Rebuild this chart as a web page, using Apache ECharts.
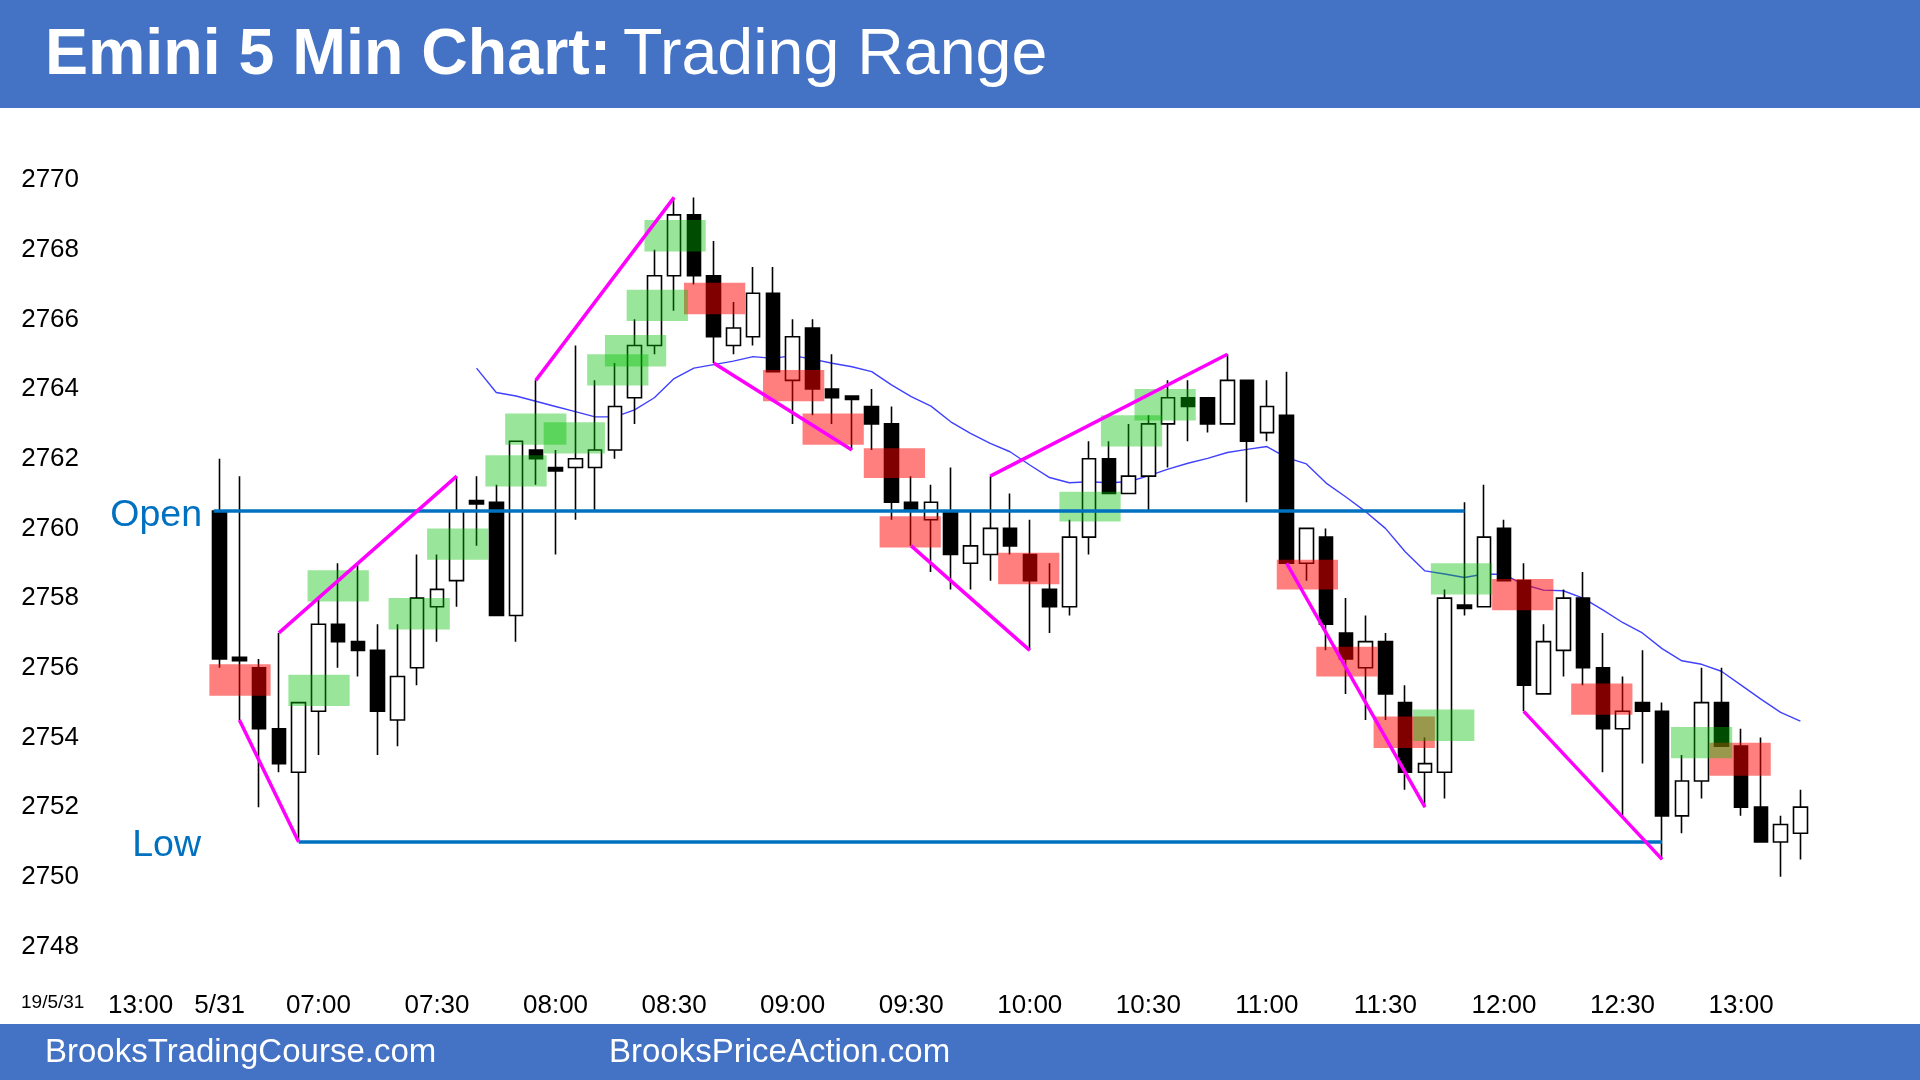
<!DOCTYPE html>
<html>
<head>
<meta charset="UTF-8" />
<title>Emini 5 Min Chart: Trading Range</title>
<style>
    html, body { margin: 0; padding: 0; background: #fff; }
    #chart { width: 1920px; height: 1080px; }
</style>
</head>
<body>
<div id="chart"></div>
<script src="https://cdn.jsdelivr.net/npm/echarts@6.0.0/dist/echarts.min.js"></script>
<script>
// previous day slots (empty on the chart) then 5/31 from 06:35
const prevDaySlots = ['5/30 12:50', '5/30 12:55', '5/30 13:00', '5/30 13:05', '5/30 13:10', '5/30 13:15'];
const firstBarTime = '06:35';
const daySlotCount = 85;

const xTickLabels = {
    '5/30 13:00': '13:00',
    '5/31 06:35': '5/31',
    '5/31 07:00': '07:00',
    '5/31 07:30': '07:30',
    '5/31 08:00': '08:00',
    '5/31 08:30': '08:30',
    '5/31 09:00': '09:00',
    '5/31 09:30': '09:30',
    '5/31 10:00': '10:00',
    '5/31 10:30': '10:30',
    '5/31 11:00': '11:00',
    '5/31 11:30': '11:30',
    '5/31 12:00': '12:00',
    '5/31 12:30': '12:30',
    '5/31 13:00': '13:00'
};

// 5 min bars, 06:35 .. 13:15
const barOpen = [
    2760.5, 2756.3, 2756.0, 2754.25, 2753.0, 2754.75, 2757.25, 2756.75, 2756.5, 2754.5,
    2756.0, 2757.75, 2758.5, 2760.8, 2760.75, 2757.5, 2762.25, 2761.75, 2761.75, 2761.75,
    2762.25, 2763.75, 2765.25, 2767.25, 2769.0, 2767.25, 2765.25, 2765.5, 2766.75, 2764.25,
    2765.75, 2764.0, 2763.8, 2763.5, 2763.0, 2760.75, 2760.25, 2760.5, 2759.0, 2759.25,
    2760.0, 2759.25, 2758.25, 2757.75, 2759.75, 2762.0, 2761.0, 2761.5, 2763.0, 2763.75,
    2763.75, 2763.0, 2764.25, 2762.75, 2763.25, 2759.0, 2759.75, 2757.0, 2756.0, 2756.75,
    2755.0, 2753.0, 2753.0, 2757.8, 2757.75, 2760.0, 2758.5, 2755.25, 2756.5, 2758.0,
    2756.0, 2754.25, 2755.0, 2754.75, 2751.75, 2752.75, 2755.0, 2753.75, 2752.0, 2751.0,
    2751.25
];
const barClose = [
    2756.25, 2756.2, 2754.25, 2753.25, 2755.0, 2757.25, 2756.75, 2756.5, 2754.75, 2755.75,
    2758.0, 2758.25, 2760.5, 2760.7, 2757.5, 2762.5, 2762.0, 2761.65, 2762.0, 2762.25,
    2763.5, 2765.25, 2767.25, 2769.0, 2767.25, 2765.5, 2765.75, 2766.75, 2764.5, 2765.5,
    2764.0, 2763.75, 2763.7, 2763.0, 2760.75, 2760.5, 2760.75, 2759.25, 2759.5, 2760.0,
    2759.5, 2758.5, 2757.75, 2759.75, 2762.0, 2761.0, 2761.5, 2763.0, 2763.75, 2763.5,
    2763.0, 2764.25, 2762.5, 2763.5, 2759.0, 2760.0, 2757.25, 2756.25, 2756.75, 2755.25,
    2753.0, 2753.25, 2758.0, 2757.7, 2759.75, 2758.5, 2755.5, 2756.75, 2758.0, 2756.0,
    2754.25, 2754.75, 2754.75, 2751.75, 2752.75, 2755.0, 2753.75, 2752.0, 2751.0, 2751.5,
    2752.0
];
const barLow = [
    2756.0, 2754.5, 2752.0, 2753.0, 2751.0, 2753.5, 2756.0, 2755.75, 2753.5, 2753.75,
    2755.5, 2756.75, 2757.75, 2759.5, 2757.5, 2756.75, 2761.25, 2759.25, 2760.25, 2760.5,
    2762.0, 2763.0, 2765.0, 2766.25, 2767.0, 2764.75, 2765.0, 2765.25, 2764.5, 2763.0,
    2763.25, 2763.0, 2762.25, 2762.25, 2760.25, 2759.5, 2758.75, 2758.25, 2758.25, 2758.5,
    2759.25, 2756.5, 2757.0, 2757.5, 2759.25, 2761.0, 2761.0, 2760.5, 2761.75, 2762.5,
    2762.75, 2763.0, 2760.75, 2762.5, 2759.0, 2758.5, 2756.5, 2755.25, 2754.5, 2754.5,
    2752.5, 2752.0, 2752.25, 2757.5, 2757.75, 2758.5, 2754.75, 2755.25, 2755.75, 2755.5,
    2753.0, 2751.75, 2753.25, 2750.5, 2751.25, 2752.25, 2753.75, 2751.75, 2751.0, 2750.0,
    2750.5
];
const barHigh = [
    2762.0, 2761.5, 2756.25, 2757.0, 2755.0, 2758.0, 2759.0, 2759.0, 2757.25, 2757.25,
    2759.25, 2759.25, 2761.5, 2761.5, 2761.25, 2762.5, 2764.25, 2762.25, 2765.25, 2764.25,
    2764.75, 2766.0, 2768.0, 2769.5, 2769.5, 2768.25, 2766.5, 2767.5, 2767.5, 2766.0,
    2766.0, 2765.0, 2763.8, 2764.0, 2763.5, 2761.5, 2761.25, 2761.75, 2760.5, 2761.5,
    2761.0, 2760.25, 2759.0, 2760.25, 2762.5, 2762.5, 2763.0, 2763.25, 2764.25, 2764.25,
    2763.75, 2765.0, 2764.25, 2764.25, 2764.5, 2760.0, 2760.0, 2758.0, 2757.5, 2757.0,
    2755.5, 2754.0, 2758.25, 2760.75, 2761.25, 2760.25, 2759.0, 2757.25, 2758.25, 2758.75,
    2757.0, 2755.75, 2756.5, 2755.0, 2753.5, 2756.0, 2756.0, 2754.25, 2754.0, 2751.75,
    2752.5
];

// 20 bar EMA as drawn, starting at bar 13
const emaStartBar = 13;
const emaValues = [
    2764.6, 2763.9, 2763.8, 2763.65, 2763.5, 2763.35, 2763.2, 2763.2, 2763.4, 2763.75,
    2764.3, 2764.6, 2764.7, 2764.8, 2764.93, 2764.88, 2764.96, 2764.86, 2764.74, 2764.64,
    2764.5, 2764.12, 2763.78, 2763.51, 2763.06, 2762.73, 2762.44, 2762.2, 2761.82, 2761.46,
    2761.31, 2761.34, 2761.31, 2761.34, 2761.51, 2761.7, 2761.87, 2762.01, 2762.18, 2762.27,
    2762.35, 2762.03, 2761.85, 2761.3, 2760.9, 2760.48, 2760.0, 2759.33, 2758.78, 2758.69,
    2758.59, 2758.69, 2758.68, 2758.39, 2758.23, 2758.21, 2758.0, 2757.66, 2757.3, 2757.0,
    2756.55, 2756.2, 2756.1, 2755.9, 2755.5, 2755.1, 2754.72, 2754.47
];

// highlight boxes: [centre bar, low, high]
const redBoxes = [
    [1.03, 2755.2, 2756.1], [25.05, 2766.15, 2767.05], [29.05, 2763.65, 2764.55],
    [31.05, 2762.4, 2763.3], [34.15, 2761.45, 2762.3], [34.95, 2759.45, 2760.35],
    [40.95, 2758.4, 2759.3], [55.05, 2758.25, 2759.1], [57.05, 2755.75, 2756.6],
    [59.95, 2753.7, 2754.6], [65.95, 2757.65, 2758.55], [69.95, 2754.65, 2755.55],
    [76.95, 2752.9, 2753.85]
];
const greenBoxes = [
    [5.03, 2754.9, 2755.8], [6.0, 2757.9, 2758.8], [10.1, 2757.1, 2758.0],
    [12.05, 2759.1, 2760.0], [15.0, 2761.2, 2762.1], [16.0, 2762.4, 2763.3],
    [17.95, 2762.15, 2763.05], [20.15, 2764.1, 2765.0], [21.05, 2764.65, 2765.55],
    [22.15, 2765.95, 2766.85], [23.05, 2767.95, 2768.85], [44.05, 2760.2, 2761.05],
    [46.15, 2762.35, 2763.25], [47.85, 2763.1, 2764.0], [61.95, 2753.9, 2754.8],
    [62.85, 2758.1, 2759.0], [75.0, 2753.4, 2754.3]
];

// trend lines: [[bar, price], [bar, price]]
const trendLines = [
    [[1, 2754.5], [4, 2751.0]],
    [[3, 2757.0], [12, 2761.5]],
    [[16, 2764.25], [23, 2769.5]],
    [[25, 2764.75], [32, 2762.25]],
    [[35, 2759.5], [41, 2756.5]],
    [[39, 2761.5], [51, 2765.0]],
    [[54, 2759.0], [61, 2752.0]],
    [[66, 2754.75], [73, 2750.5]]
];
const openLine = [[-0.3, 2760.5], [63, 2760.5]];
const lowLine = [[4, 2751.0], [73, 2751.0]];

const yTicks = { min: 2748, max: 2770, step: 2 };

// ---- build
const dayCategories = [];
let [hh, mm] = firstBarTime.split(':').map(Number);
for (let i = 0; i < daySlotCount; i++) {
    dayCategories.push('5/31 ' + String(hh).padStart(2, '0') + ':' + String(mm).padStart(2, '0'));
    mm += 5;
    if (mm >= 60) { mm -= 60; hh += 1; }
}
const categories = prevDaySlots.concat(dayCategories);
const lead = prevDaySlots.length;

const candleData = categories.map((c, j) => {
    const i = j - lead;
    if (i < 0 || i >= barOpen.length) return ['-', '-', '-', '-'];
    return [barOpen[i], barClose[i], barLow[i], barHigh[i]];
});
const emaData = emaValues.map((v, k) => [emaStartBar + k, v]);

const font = 'Liberation Sans, Arial, sans-serif';
const boxHalf = 1.55;

function boxSeries(list, fill) {
    return {
        type: 'custom',
        xAxisIndex: 1,
        yAxisIndex: 0,
        z: 3,
        silent: true,
        data: list.map(b => [b[0] - boxHalf, b[0] + boxHalf, b[1], b[2]]),
        encode: { x: [0, 1], y: [2, 3] },
        renderItem: function (params, api) {
            const p1 = api.coord([api.value(0), api.value(3)]);
            const p2 = api.coord([api.value(1), api.value(2)]);
            return {
                type: 'rect',
                shape: { x: p1[0], y: p1[1], width: p2[0] - p1[0], height: p2[1] - p1[1] },
                style: { fill: fill }
            };
        }
    };
}

function lineSeries(data, color, width, z) {
    return {
        type: 'line',
        xAxisIndex: 1,
        yAxisIndex: 0,
        data: data,
        symbol: 'none',
        silent: true,
        z: z,
        lineStyle: { color: color, width: width }
    };
}

const series = [
    {
        type: 'candlestick',
        xAxisIndex: 0,
        yAxisIndex: 0,
        data: candleData,
        barWidth: 14,
        z: 2,
        itemStyle: {
            color: '#ffffff',
            color0: '#000000',
            borderColor: '#000000',
            borderColor0: '#000000',
            borderWidth: 1.6
        }
    },
    lineSeries(emaData, '#4040ff', 1.4, 2),
    boxSeries(redBoxes, 'rgba(255,0,0,0.5)'),
    boxSeries(greenBoxes, 'rgba(0,190,0,0.4)'),
    lineSeries(openLine, '#0070C0', 3.5, 4),
    lineSeries(lowLine, '#0070C0', 3.5, 4)
];
trendLines.forEach(seg => series.push(lineSeries(seg, '#ff00ff', 3.5, 5)));

const chart = echarts.init(document.getElementById('chart'));
chart.setOption({
    animation: false,
    backgroundColor: '#ffffff',
    grid: { left: 91.2, right: 30.7, top: 180, bottom: 133.5, containLabel: false },
    xAxis: [
        {
            type: 'category',
            data: categories,
            boundaryGap: true,
            axisLine: { show: false },
            axisTick: { show: false },
            splitLine: { show: false },
            axisLabel: {
                interval: (idx, val) => xTickLabels[val] !== undefined,
                formatter: val => xTickLabels[val] || '',
                color: '#000',
                fontSize: 26,
                fontFamily: font,
                margin: 46
            }
        },
        {
            type: 'value',
            min: -lead - 0.5,
            max: daySlotCount - 0.5,
            show: false
        }
    ],
    yAxis: {
        type: 'value',
        min: yTicks.min,
        max: yTicks.max,
        interval: yTicks.step,
        axisLine: { show: false },
        axisTick: { show: false },
        splitLine: { show: false },
        axisLabel: {
            formatter: v => String(v),
            color: '#000',
            fontSize: 26,
            fontFamily: font,
            align: 'left',
            margin: 70
        }
    },
    graphic: [
        { type: 'rect', shape: { x: 0, y: 0, width: 1920, height: 108 }, style: { fill: '#4472C4' }, z: 10 },
        { type: 'text', z: 11, style: { x: 45, y: 56, verticalAlign: 'middle', text: 'Emini 5 Min Chart:', fill: '#fff', font: 'bold 64.5px ' + font } },
        { type: 'text', z: 11, style: { x: 623, y: 56, verticalAlign: 'middle', text: 'Trading Range', fill: '#fff', font: '64.5px ' + font } },
        { type: 'rect', shape: { x: 0, y: 1024, width: 1920, height: 56 }, style: { fill: '#4472C4' }, z: 10 },
        { type: 'text', z: 11, style: { x: 45, y: 1053, verticalAlign: 'middle', text: 'BrooksTradingCourse.com', fill: '#fff', font: '33px ' + font } },
        { type: 'text', z: 11, style: { x: 609, y: 1053, verticalAlign: 'middle', text: 'BrooksPriceAction.com', fill: '#fff', font: '33px ' + font } },
        { type: 'text', z: 11, style: { x: 202, y: 516, align: 'right', verticalAlign: 'middle', text: 'Open', fill: '#0070C0', font: '37.5px ' + font } },
        { type: 'text', z: 11, style: { x: 201, y: 846, align: 'right', verticalAlign: 'middle', text: 'Low', fill: '#0070C0', font: '37.5px ' + font } },
        { type: 'text', z: 11, style: { x: 21, y: 1003, verticalAlign: 'middle', text: '19/5/31', fill: '#000', font: '19px ' + font } }
    ],
    series: series
});
</script>
</body>
</html>
